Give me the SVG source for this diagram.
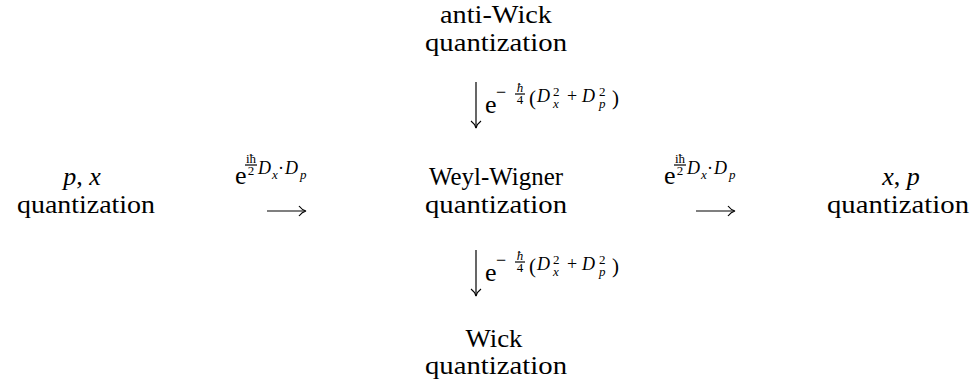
<svg xmlns="http://www.w3.org/2000/svg" width="977" height="390" viewBox="0 0 977 390" font-family="'Liberation Serif', 'DejaVu Serif', 'Times New Roman', 'Nimbus Roman', 'FreeSerif', 'Noto Serif', Times, serif">
<style>
text{font-family:'Liberation Serif','DejaVu Serif','Times New Roman','Nimbus Roman','FreeSerif','Noto Serif',Times,serif;fill:#000}
.t{font-size:26px;text-anchor:middle}
.e{font-size:26px}
.m{font-size:18px}
.s{font-size:13px}
.i{font-style:italic}
.c{text-anchor:middle}
.ln{stroke:#000;stroke-width:1.2;fill:none}
</style>
<defs>
<g id="vlab">
<text class="e" x="485" y="113">e</text>
<text class="m" x="496" y="98">−</text>
<text class="s i c" x="520" y="92">ħ</text>
<line class="ln" x1="515" y1="94" x2="525" y2="94" stroke-width="0.8"/>
<text class="s c" x="520" y="104">4</text>
<text class="m" x="529" y="105" style="font-size:21px">(</text>
<text class="m i" x="537" y="102">D</text>
<text class="s i" x="553" y="108">x</text>
<text class="s" x="553" y="96">2</text>
<text class="m" x="567" y="102">+</text>
<text class="m i" x="582" y="102">D</text>
<text class="s i" x="599" y="108">p</text>
<text class="s" x="599" y="96">2</text>
<text class="m" x="612" y="105" style="font-size:21px">)</text>
</g>
<g id="hlab">
<text class="e" x="235" y="184">e</text>
<text class="s c" x="251" y="163">iħ</text>
<line class="ln" x1="245" y1="165" x2="257" y2="165" stroke-width="0.8"/>
<text class="s c" x="251" y="175">2</text>
<text class="m i" x="258" y="174">D</text>
<text class="s i" x="272" y="179">x</text>
<text class="m" x="278" y="174">·</text>
<text class="m i" x="285" y="174">D</text>
<text class="s i" x="300" y="179">p</text>
</g>
</defs>
<g id="antiwick">
<text class="t" x="496" y="23" textLength="112" lengthAdjust="spacingAndGlyphs">anti-Wick</text>
<text class="t" x="496" y="51" textLength="142" lengthAdjust="spacingAndGlyphs">quantization</text>
</g>
<g id="px">
<text class="t" x="82" y="185"><tspan class="i">p</tspan>, <tspan class="i">x</tspan></text>
<text class="t" x="86" y="213" textLength="138" lengthAdjust="spacingAndGlyphs">quantization</text>
</g>
<g id="weyl">
<text class="t" x="496" y="185" textLength="134" lengthAdjust="spacingAndGlyphs">Weyl-Wigner</text>
<text class="t" x="496" y="213" textLength="142" lengthAdjust="spacingAndGlyphs">quantization</text>
</g>
<g id="xp">
<text class="t" x="901" y="185"><tspan class="i">x</tspan>, <tspan class="i">p</tspan></text>
<text class="t" x="898" y="213" textLength="142" lengthAdjust="spacingAndGlyphs">quantization</text>
</g>
<g id="wick">
<text class="t" x="494" y="347" textLength="57" lengthAdjust="spacingAndGlyphs">Wick</text>
<text class="t" x="496" y="374" textLength="142" lengthAdjust="spacingAndGlyphs">quantization</text>
</g>
<g id="connectors">
<g id="c-top">
<line class="ln" x1="476" y1="82" x2="476" y2="128"/>
<path class="ln" d="M471,121 Q475,124 476,128 Q477,124 481,121"/>
<use href="#vlab"/>
</g>
<g id="c-bottom" transform="translate(0,168)">
<line class="ln" x1="476" y1="82" x2="476" y2="128"/>
<path class="ln" d="M471,121 Q475,124 476,128 Q477,124 481,121"/>
<use href="#vlab"/>
</g>
<g id="c-left">
<line class="ln" x1="267" y1="211" x2="305" y2="211"/>
<path class="ln" d="M299,206 Q302,210 306,211 Q302,212 299,216"/>
<use href="#hlab"/>
</g>
<g id="c-right" transform="translate(429,0)">
<line class="ln" x1="267" y1="211" x2="305" y2="211"/>
<path class="ln" d="M299,206 Q302,210 306,211 Q302,212 299,216"/>
<use href="#hlab"/>
</g>
</g>
</svg>
